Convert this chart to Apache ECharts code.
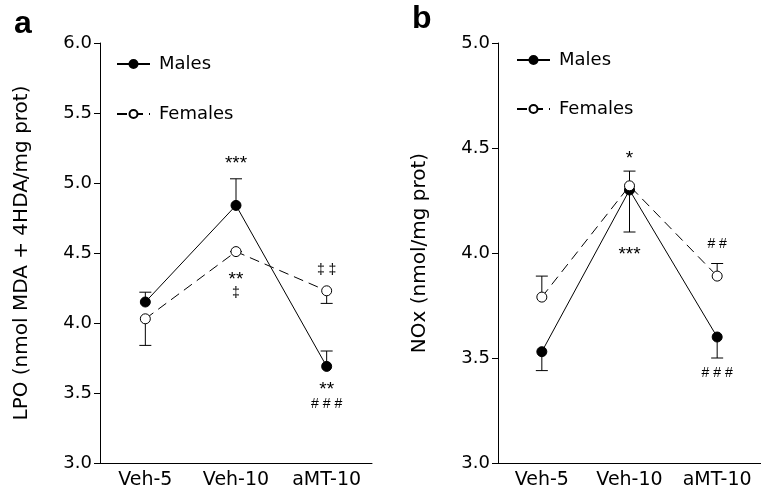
<!DOCTYPE html>
<html>
<head>
<meta charset="utf-8">
<script src="https://cdn.jsdelivr.net/npm/echarts@6/dist/echarts.min.js"></script>
<style>
  html, body { margin: 0; padding: 0; background: #fff; }
  #main { width: 761px; height: 490px; }
</style>
</head>
<body>
<div id="main"></div>
<script>
var categories = ['Veh-5', 'Veh-10', 'aMT-10'];

// panel a: LPO
var lpoMales = [4.15, 4.84, 3.69];
var lpoMalesErr = [4.22, 5.03, 3.80];
var lpoFemales = [4.03, 4.51, 4.23];
var lpoFemalesErr = [3.84, 4.51, 4.14];
var lpoTicks = [3.0, 3.5, 4.0, 4.5, 5.0, 5.5, 6.0];
var lpoMarks = [
    [1, 5.14, '***'],
    [1, 4.31, '**'],
    [1, 4.21, '‡'],
    [2, 4.38, '‡ ‡'],
    [2, 3.52, '**'],
    [2, 3.42, '# # #']
];

// panel b: NOx
var noxMales = [3.53, 4.30, 3.60];
var noxMalesErr = [3.44, 4.10, 3.50];
var noxFemales = [3.79, 4.32, 3.89];
var noxFemalesErr = [3.89, 4.39, 3.95];
var noxTicks = [3.0, 3.5, 4.0, 4.5, 5.0];
var noxMarks = [
    [1, 4.45, '*'],
    [1, 3.99, '***'],
    [2, 4.04, '# #'],
    [2, 3.43, '# # #']
];

var FONT = 'DejaVu Sans';

function pairs(vals, ends) {
    return vals.map(function (v, i) { return [i, v, ends[i]]; });
}

function renderErr(params, api) {
    var x = api.value(0);
    var p0 = api.coord([x, api.value(1)]);
    var p1 = api.coord([x, api.value(2)]);
    var hw = 6;
    var st = { stroke: '#000', lineWidth: 1 };
    return {
        type: 'group',
        children: [
            { type: 'line', shape: { x1: p0[0], y1: p0[1], x2: p1[0], y2: p1[1] }, style: st },
            { type: 'line', shape: { x1: p1[0] - hw, y1: p1[1], x2: p1[0] + hw, y2: p1[1] }, style: st }
        ]
    };
}

function markSeries(marks, idx) {
    return {
        type: 'custom', xAxisIndex: idx, yAxisIndex: idx, z: 6,
        renderItem: function (params, api) {
            var item = marks[params.dataIndex];
            var p = api.coord([item[0], item[1]]);
            var star = item[2].charAt(0) === '*';
            return {
                type: 'text',
                style: {
                    text: item[2], x: p[0], y: p[1],
                    align: 'center', verticalAlign: 'middle',
                    font: (star ? '19px' : '14px') + ' "Liberation Sans"', fill: '#000'
                }
            };
        },
        encode: { x: 0, y: 1 },
        data: marks.map(function (m) { return [m[0], m[1]]; }),
        silent: true, animation: false
    };
}

function yAxis(grid, min, max, name) {
    return {
        type: 'value', gridIndex: grid, min: min, max: max, interval: 0.5,
        name: name, nameLocation: 'middle', nameGap: 68,
        nameTextStyle: { fontFamily: FONT, fontSize: 20, color: '#000' },
        axisLine: { show: true, lineStyle: { color: '#000', width: 1 } },
        axisTick: { show: true, inside: false, length: 6, lineStyle: { color: '#000' } },
        axisLabel: {
            fontFamily: FONT, fontSize: 18, color: '#000', margin: 8,
            formatter: function (v) { return v.toFixed(1); }
        },
        splitLine: { show: false }
    };
}

function xAxis(grid) {
    return {
        type: 'category', gridIndex: grid, data: categories,
        axisLine: { lineStyle: { color: '#000', width: 1 } },
        axisTick: { alignWithLabel: true, inside: false, length: 6, lineStyle: { color: '#000' } },
        axisLabel: { fontFamily: FONT, fontSize: 19, color: '#000', margin: 8, interval: 0, hideOverlap: false }
    };
}

function lineSeries(name, data, idx, dashed) {
    return {
        type: 'line', name: name, xAxisIndex: idx, yAxisIndex: idx, data: data,
        symbol: 'circle', symbolSize: 10, z: 5,
        lineStyle: { color: '#000', width: 1, type: dashed ? [10, 6] : 'solid' },
        itemStyle: { color: dashed ? '#fff' : '#000', borderColor: '#000', borderWidth: 1 },
        animation: false
    };
}

function errSeries(data, idx) {
    return {
        type: 'custom', xAxisIndex: idx, yAxisIndex: idx, z: 2,
        renderItem: renderErr, encode: { x: 0, y: [1, 2] }, data: data,
        silent: true, animation: false
    };
}

function legend(left, top, gap) {
    return {
        orient: 'vertical', left: left, top: top, itemGap: gap,
        itemWidth: 33, itemHeight: 10, selectedMode: false,
        data: ['Males', 'Females'],
        textStyle: { fontFamily: FONT, fontSize: 18, color: '#000', padding: [0, 0, 0, 4] }
    };
}

var chart = echarts.init(document.getElementById('main'));
chart.setOption({
    backgroundColor: '#fff',
    animation: false,
    grid: [
        { left: 100, top: 43, width: 272, height: 422 },
        { left: 498, top: 43, width: 273, height: 422 }
    ],
    xAxis: [xAxis(0), xAxis(1)],
    yAxis: [
        yAxis(0, lpoTicks[0], lpoTicks[lpoTicks.length - 1], 'LPO (nmol MDA + 4HDA/mg prot)'),
        yAxis(1, noxTicks[0], noxTicks[noxTicks.length - 1], 'NOx (nmol/mg prot)')
    ],
    legend: [legend(111, 50, 32), legend(511, 46, 31)],
    graphic: [
        { type: 'text', left: 14, top: 8, style: { text: 'a', font: 'bold 32px "Liberation Sans"', fill: '#000' } },
        { type: 'text', left: 412, top: 3, style: { text: 'b', font: 'bold 32px "Liberation Sans"', fill: '#000' } }
    ],
    series: [
        errSeries(pairs(lpoMales, lpoMalesErr), 0),
        errSeries(pairs(lpoFemales, lpoFemalesErr), 0),
        lineSeries('Males', lpoMales, 0, false),
        lineSeries('Females', lpoFemales, 0, true),
        markSeries(lpoMarks, 0),
        errSeries(pairs(noxMales, noxMalesErr), 1),
        errSeries(pairs(noxFemales, noxFemalesErr), 1),
        lineSeries('Males', noxMales, 1, false),
        lineSeries('Females', noxFemales, 1, true),
        markSeries(noxMarks, 1)
    ]
});
</script>
</body>
</html>
